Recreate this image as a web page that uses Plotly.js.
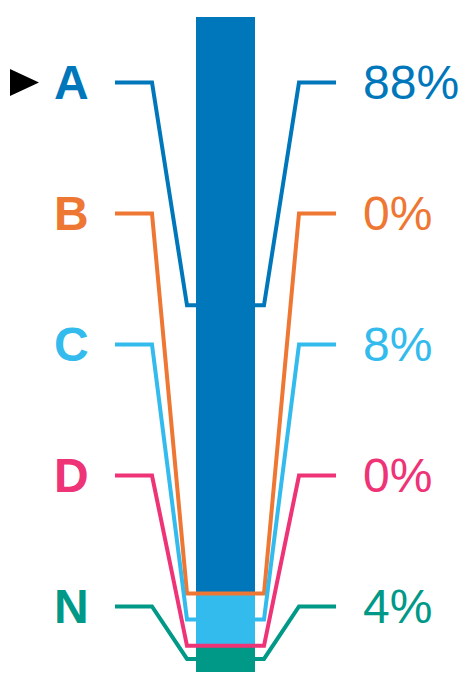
<!DOCTYPE html>
<html>
<head>
<meta charset="utf-8">
<script src="https://cdn.plot.ly/plotly-3.0.1.min.js"></script>
<style>
  html, body { margin: 0; padding: 0; background: #fff; }
  #chart { width: 471px; height: 673px; }
</style>
</head>
<body>
<div id="chart"></div>
<script>
// categories top to bottom, share in percent
const categories = ['A', 'B', 'C', 'D', 'N'];
const shares = [88, 0, 8, 0, 4];
const shareLabels = ['88%', '0%', '8%', '0%', '4%'];
const colors = ['#0077BB', '#EE7733', '#33BBEE', '#EE3377', '#009988'];
const selected = 'A';

// layout geometry (x in pixels, y in percent of the bar)
const W = 471, H = 673;
const barTop = 17, barBottom = 672;
const pxPerPct = (barBottom - barTop) / 100;
const barCenter = 225.5, barWidth = 59;
const outerOff = 110.5, kneeOff = 73.5, innerOff = 38.5;

function drawChart() {
    const traces = [];
    const annotations = [];

    // stacked bar, bottom segment first
    for (let i = categories.length - 1; i >= 0; i--) {
        traces.push({
            type: 'bar',
            x: [barCenter],
            y: [shares[i]],
            width: [barWidth],
            marker: { color: colors[i], line: { width: 0 } },
            hoverinfo: 'skip',
            showlegend: false
        });
    }

    // connector lines from labels to segment midpoints
    let top = 100;
    categories.forEach((cat, i) => {
        const labelY = 90 - 20 * i;
        const mid = top - shares[i] / 2;
        top -= shares[i];
        const xs = [barCenter - outerOff, barCenter - kneeOff, barCenter - innerOff, barCenter - barWidth / 2];
        const ys = [labelY, labelY, mid, mid];
        if (shares[i] > 0) { xs.push(null); ys.push(null); }
        xs.push(barCenter + barWidth / 2, barCenter + innerOff, barCenter + kneeOff, barCenter + outerOff);
        ys.push(mid, mid, labelY, labelY);
        traces.push({
            type: 'scatter',
            mode: 'lines',
            x: xs,
            y: ys,
            connectgaps: false,
            line: { color: colors[i], width: 4 },
            hoverinfo: 'skip',
            showlegend: false
        });

        annotations.push({
            x: 71, y: labelY, xref: 'x', yref: 'y',
            text: '<b>' + cat + '</b>',
            showarrow: false, xanchor: 'center', yanchor: 'middle',
            font: { family: 'Liberation Sans, Arial, sans-serif', size: 48, color: colors[i] }
        });
        annotations.push({
            x: 361, y: labelY, xref: 'x', yref: 'y',
            text: shareLabels[i],
            showarrow: false, xanchor: 'left', yanchor: 'middle',
            font: { family: 'Liberation Sans, Arial, sans-serif', size: 48, color: colors[i] }
        });
    });

    // pointer at the selected category
    const selY = 90 - 20 * categories.indexOf(selected);
    const half = 13.5 / pxPerPct;
    const shapes = [{
        type: 'path',
        xref: 'x', yref: 'y',
        path: `M 10 ${selY + half} L 39 ${selY} L 10 ${selY - half} Z`,
        fillcolor: '#000', line: { width: 0 }
    }];

    const layout = {
        width: W,
        height: H,
        margin: { t: 0, r: 0, b: 0, l: 0 },
        paper_bgcolor: '#fff',
        plot_bgcolor: '#fff',
        barmode: 'stack',
        bargap: 0,
        xaxis: { range: [0, W], visible: false, fixedrange: true },
        yaxis: {
            range: [-(H - barBottom) / pxPerPct, 100 + barTop / pxPerPct],
            visible: false, fixedrange: true
        },
        annotations: annotations,
        shapes: shapes,
        showlegend: false
    };

    Plotly.newPlot('chart', traces, layout, { displayModeBar: false, staticPlot: true });
}

drawChart();
</script>
</body>
</html>
